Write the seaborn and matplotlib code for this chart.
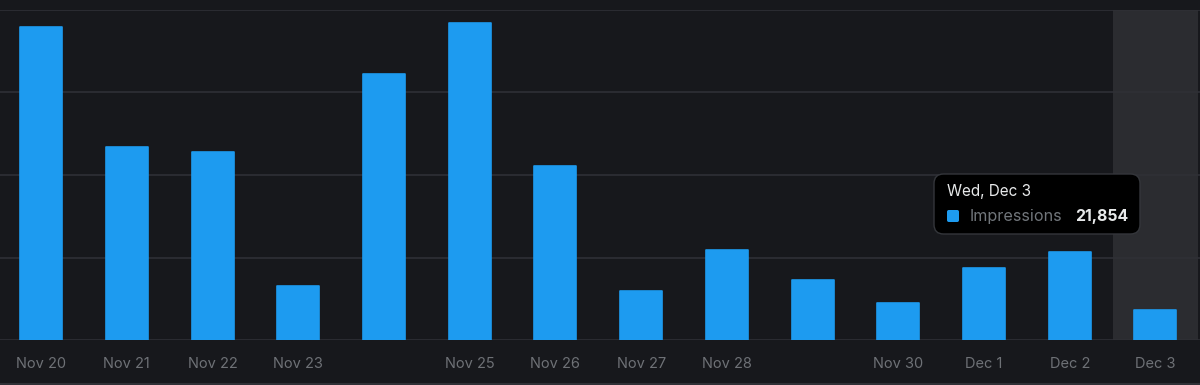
import numpy as np
import pandas as pd
import matplotlib
matplotlib.use("Agg")
import matplotlib.pyplot as plt
import seaborn as sns
from matplotlib.patches import FancyBboxPatch
from matplotlib.lines import Line2D

days = ['Nov 20', 'Nov 21', 'Nov 22', 'Nov 23', 'Nov 24', 'Nov 25', 'Nov 26',
        'Nov 27', 'Nov 28', 'Nov 29', 'Nov 30', 'Dec 1', 'Dec 2', 'Dec 3']
impressions = [227600, 140400, 136700, 39300, 193500, 230500, 126500,
               35600, 65500, 43600, 26900, 52400, 64000, 21854]
# some labels are hidden on the axis
tick_labels = ['Nov 20', 'Nov 21', 'Nov 22', 'Nov 23', '', 'Nov 25', 'Nov 26',
               'Nov 27', 'Nov 28', '', 'Nov 30', 'Dec 1', 'Dec 2', 'Dec 3']
grid_ticks = [0, 60000, 120000, 180000, 240000]

df = pd.DataFrame({'day': days, 'impressions': impressions})

bg = '#17181c'
blue = '#1d9bf0'

sns.set_style('dark')
plt.rcParams['font.family'] = ['Inter', 'DejaVu Sans']

fig = plt.figure(figsize=(12, 3.85), dpi=100, facecolor=bg)
ax = fig.add_axes([0, 45 / 385, 1, 330 / 385])
ax.set_facecolor(bg)

sns.barplot(data=df, x='day', y='impressions', color=blue, width=0.49,
            saturation=1, ax=ax, zorder=3)
for p in ax.patches:
    p.set_edgecolor(blue)
    p.set_linewidth(1.2)
    p.set_joinstyle('round')

# hover band on last day
ax.axvspan(12.5, 13.5, facecolor='#2b2c30', edgecolor='none', zorder=0, lw=0)

ax.set_ylim(0, 240000)
ax.set_xlim(-0.48, 13.52)
ax.set_yticks(grid_ticks)
ax.yaxis.grid(True, color='#2f3036', lw=1.2, zorder=1)
ax.xaxis.grid(False)
ax.set_yticklabels([])
ax.tick_params(axis='y', length=0)
ax.set_xticks(range(len(days)))
ax.set_xticklabels(tick_labels, color='#6e7176', fontsize=10.5)
ax.tick_params(axis='x', length=0, pad=12)
ax.set_xlabel('')
ax.set_ylabel('')
for s in ax.spines.values():
    s.set_visible(False)

# bottom border line of the card
fig.add_artist(Line2D([0, 1], [1.5 / 385, 1.5 / 385], color='#2f3036', lw=1.5,
                      transform=fig.transFigure))

# tooltip
def px(x, y):
    return x / 1200, 1 - y / 385

x0, y0 = px(934, 234)
x1, y1 = px(1140, 174)
tip = FancyBboxPatch((x0, y0), x1 - x0, y1 - y0,
                     boxstyle='round,pad=0,rounding_size=0.008',
                     transform=fig.transFigure, facecolor='#000000',
                     edgecolor='#34363b', lw=1, zorder=10, mutation_aspect=3.1)
fig.add_artist(tip)
fig.text(*px(947, 192), 'Wed, Dec 3', color='#e7e9ea', fontsize=11,
         va='center', ha='left', zorder=11)
sx, sy = px(947, 222)
fig.add_artist(FancyBboxPatch((sx, sy), 12 / 1200, 12 / 385,
                              boxstyle='round,pad=0,rounding_size=0.0015',
                              transform=fig.transFigure, facecolor=blue,
                              edgecolor='none', zorder=11, mutation_aspect=3.1))
fig.text(*px(970, 216), 'Impressions', color='#71767b', fontsize=11.6,
         va='center', ha='left', zorder=11)
fig.text(*px(1128, 216), '21,854', color='#e7e9ea', fontsize=11.4,
         fontweight='bold', va='center', ha='right', zorder=11)

fig.savefig('out.png', dpi=100, facecolor=bg)
